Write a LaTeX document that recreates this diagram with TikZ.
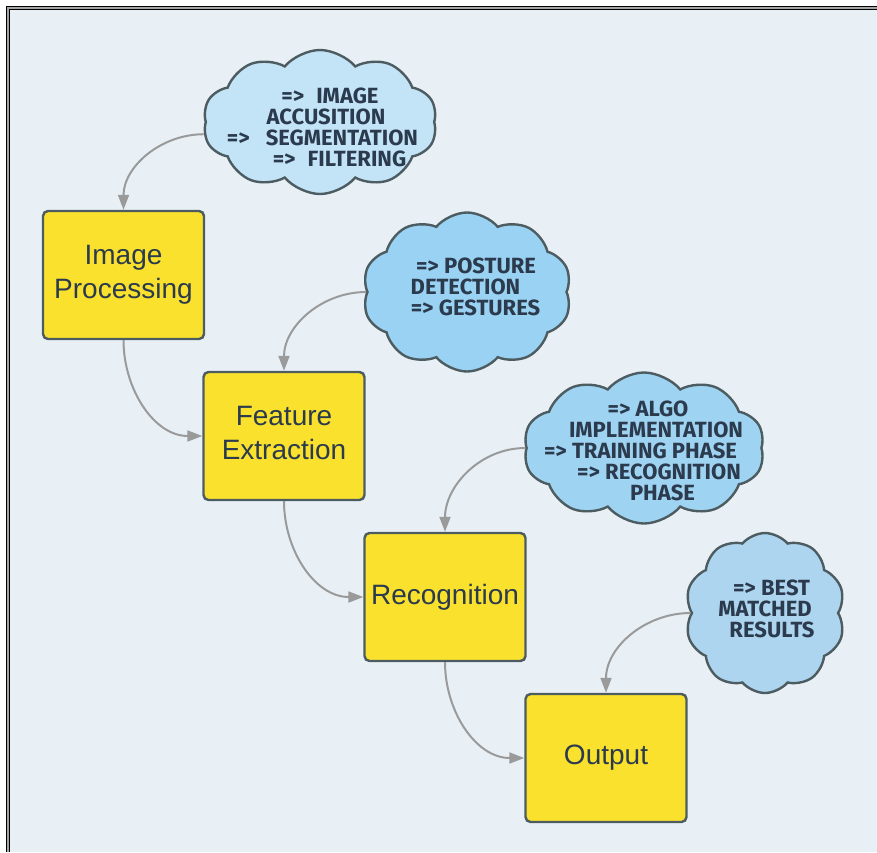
\documentclass[tikz,border=0pt]{standalone}
\usepackage{fontspec}
\setmainfont{Liberation Sans}
\newfontfamily\cloudfont{Fira Sans}
\usetikzlibrary{shapes.symbols,arrows.meta}

\definecolor{pagebg}{HTML}{E8F0F6}
\definecolor{boxfill}{HTML}{F9E12D}
\definecolor{boxline}{HTML}{4C5C61}
\definecolor{ink}{HTML}{2B3A4D}
\definecolor{linkgray}{HTML}{9A9A9A}
\definecolor{cloudA}{HTML}{C3E3F7}
\definecolor{cloudB}{HTML}{99D2F3}
\definecolor{cloudC}{HTML}{9ED3F2}
\definecolor{cloudD}{HTML}{ADD5EF}

\begin{document}
\begin{tikzpicture}[x=1pt,y=1pt,
  stepbox/.style={draw=boxline, line width=2.4pt, fill=boxfill, rounded corners=5pt,
    minimum width=161pt, minimum height=128pt, inner sep=0pt, text=ink,
    font=\fontsize{28}{34}\selectfont, align=center},
  thought/.style={cloud, cloud puffs=10, cloud puff arc=100, cloud ignores aspect,
    draw=boxline, line width=2.4pt, inner sep=0pt},
  note/.style={text=ink, font=\cloudfont\bfseries\fontsize{22}{22}\selectfont, inner sep=0pt},
  link/.style={draw=linkgray, line width=2pt, -{Triangle[length=15pt,width=11pt]}}
]
% page and framed background
\useasboundingbox (0,0) rectangle (877,-852);
\fill[white] (0,0) rectangle (877,-852);
\fill[pagebg] (8,-8) rectangle (877,-852);
\draw[black, line width=4pt] (8,-852) -- (8,-8) -- (877,-8);
\draw[gray!70, line width=1.2pt] (8,-852) -- (8,-8) -- (877,-8);

% thought clouds
\node[thought, fill=cloudA, minimum width=234pt, minimum height=144pt] (c1) at (320,-122) {};
\node[thought, fill=cloudB, minimum width=209pt, minimum height=159pt] (c2) at (467,-292) {};
\node[thought, fill=cloudC, minimum width=241pt, minimum height=151pt] (c3) at (644,-448) {};
\node[thought, fill=cloudD, minimum width=160pt, minimum height=160pt] (c4) at (765,-613) {};

% cloud texts
\node[note] (c1a) at (330,-96)    {=>\hspace{12pt}IMAGE};
\node[note] (c1b) at (326,-117)   {ACCUSITION};
\node[note] (c1c) at (322.5,-138) {=>\hspace{16pt}SEGMENTATION};
\node[note] (c1d) at (339.5,-159) {=>\hspace{12pt}FILTERING};

\node[note] (c2a) at (476,-266)   {=> POSTURE};
\node[note] (c2b) at (465.5,-287) {DETECTION};
\node[note] (c2c) at (475.5,-308) {=> GESTURES};

\node[note] (c3a) at (648,-408.5) {=> ALGO};
\node[note] (c3b) at (656,-429.5) {IMPLEMENTATION};
\node[note] (c3c) at (640.5,-450.5) {=> TRAINING PHASE};
\node[note] (c3d) at (659,-471.5) {=> RECOGNITION};
\node[note] (c3e) at (662.5,-492.5) {PHASE};

\node[note] (c4a) at (771.5,-588) {=> BEST};
\node[note] (c4b) at (765,-609)   {MATCHED};
\node[note] (c4c) at (772,-630)   {RESULTS};

% process steps
\node[stepbox] (ip) at (123.5,-275) {Image\\Processing};
\node[stepbox] (fe) at (284,-436)   {Feature\\Extraction\vphantom{g}};
\node[stepbox] (re) at (445,-597)   {Recognition};
\node[stepbox] (ou) at (606,-758)   {Output};

% connectors
\draw[link] (c1.186) to[out=180,in=90] (ip.north);
\draw[link] (ip.south) to[out=-90,in=180] (fe.west);
\draw[link] (c2.west) to[out=180,in=90] (fe.north);
\draw[link] (fe.south) to[out=-90,in=180] (re.west);
\draw[link] (c3.west) to[out=180,in=90] (re.north);
\draw[link] (re.south) to[out=-90,in=180] (ou.west);
\draw[link] (c4.west) to[out=180,in=90] (ou.north);
\end{tikzpicture}
\end{document}
